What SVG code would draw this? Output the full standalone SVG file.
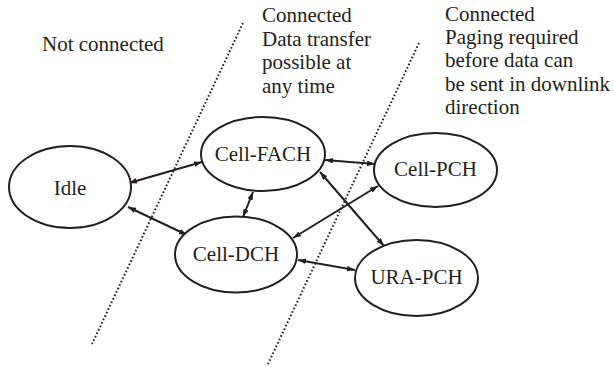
<svg xmlns="http://www.w3.org/2000/svg" width="614" height="367" viewBox="0 0 614 367">
<defs>
<marker id="ah" viewBox="0 0 10 7" refX="10" refY="3.5" markerWidth="8" markerHeight="5.6" orient="auto-start-reverse" markerUnits="userSpaceOnUse">
<path d="M0,0 L10,3.5 L0,7 z" fill="#231f20"/>
</marker>
<style>
.n ellipse{fill:#fff;stroke:#231f20;stroke-width:2}
.n text{font-family:"Liberation Serif","Times New Roman",serif;font-size:21px;fill:#231f20;text-anchor:middle}
.t{font-family:"Liberation Serif","Times New Roman",serif;font-size:21px;fill:#231f20}
.d{stroke:#231f20;stroke-width:2;stroke-dasharray:1.6 2.2;fill:none}
.c line{stroke:#231f20;stroke-width:2;marker-start:url(#ah);marker-end:url(#ah)}
</style>
</defs>
<rect width="614" height="367" fill="#fff"/>
<line class="d" x1="243" y1="23" x2="92" y2="344"/>
<line class="d" x1="419" y1="43" x2="268" y2="364"/>
<text class="t" x="42" y="51">Not connected</text>
<text class="t" x="262" y="22">Connected<tspan x="262" dy="23.5">Data transfer</tspan><tspan x="262" dy="23.5">possible at</tspan><tspan x="262" dy="23.5">any time</tspan></text>
<text class="t" x="445" y="21">Connected<tspan x="445" dy="23.2">Paging required</tspan><tspan x="445" dy="23.2">before data can</tspan><tspan x="445" dy="23.2">be sent in downlink</tspan><tspan x="445" dy="23.2">direction</tspan></text>
<g class="c" id="connectors">
<line x1="129" y1="183" x2="202" y2="162"/>
<line x1="128" y1="207" x2="187" y2="235"/>
<line x1="253" y1="192" x2="243" y2="217"/>
<line x1="325" y1="160" x2="375" y2="164"/>
<line x1="320" y1="172" x2="384" y2="246"/>
<line x1="293" y1="238" x2="378" y2="186"/>
<line x1="298" y1="260" x2="355" y2="270"/>
</g>
<g class="n" id="idle"><ellipse cx="70" cy="187" rx="61" ry="41"/><text x="70" y="195">Idle</text></g>
<g class="n" id="cell-fach"><ellipse cx="263" cy="154" rx="62" ry="37"/><text x="263" y="161">Cell-FACH</text></g>
<g class="n" id="cell-dch"><ellipse cx="236" cy="254.5" rx="61" ry="38"/><text x="236" y="261">Cell-DCH</text></g>
<g class="n" id="cell-pch"><ellipse cx="435.5" cy="170" rx="61.5" ry="37"/><text x="435.5" y="176">Cell-PCH</text></g>
<g class="n" id="ura-pch"><ellipse cx="416.5" cy="278" rx="61.5" ry="38"/><text x="416.5" y="284">URA-PCH</text></g>
</svg>
